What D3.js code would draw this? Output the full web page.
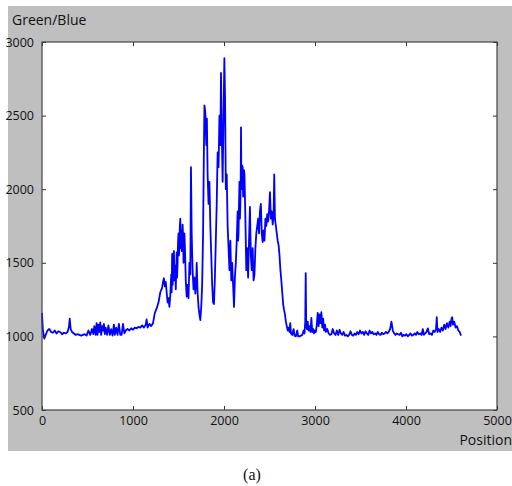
<!DOCTYPE html>
<html>
<head>
<meta charset="utf-8">
<script src="https://cdn.jsdelivr.net/npm/d3@7"></script>
<style>
body { margin: 0; background: #fff; }
</style>
</head>
<body>
<div id="chart"></div>
<script>
// positions along the sequence and the Green/Blue ratio
var positions = [0,10,25,40,60,80,100,120,140,160,180,200,220,240,260,280,295,305,315,330,350,370,390,410,430,450,470,490,510,530,550,565,575,590,600,610,620,630,640,650,660,670,680,690,700,715,730,745,760,775,790,800,815,830,845,860,875,890,905,920,940,960,980,1000,1020,1040,1060,1080,1100,1120,1140,1150,1160,1180,1200,1220,1240,1260,1280,1300,1320,1330,1340,1350,1360,1370,1380,1390,1400,1410,
    1420,1425,1430,1435,1440,1445,1450,1455,1460,1465,1470,1475,1480,1485,1490,1495,1500,1505,1510,1515,1520,1525,1530,1535,1540,1545,1550,1555,1560,1565,1570,
    1580,1590,1600,1610,1620,1630,1637,1645,1655,1665,1675,1685,1695,1700,1710,1720,1730,1740,1750,1760,1770,1778,1785,1795,1805,1812,1820,1830,1840,1850,1860,1870,1880,1890,1900,1910,1920,1930,1940,1950,1960,1967,1975,1985,1995,2004,2012,2020,2030,2040,2050,2060,2070,2080,2090,2100,2110,2120,2130,2140,
    2150,2155,2160,2165,2170,2175,2180,2184,2187,2191,2195,2200,2205,2210,2215,2220,2225,
    2235,2245,2255,2265,2275,2285,2295,2305,2315,2325,2335,2345,2355,2365,2375,2385,2395,2405,2415,2425,2435,2445,2455,2465,2475,2485,2495,2505,2515,2525,2535,2545,2552,2560,2570,2580,2590,2600,2610,2620,2630,2640,2650,2660,2670,2680,2690,2700,2710,2720,2728,2736,2750,2765,2775,2790,2805,2815,2830,2845,2860,2875,2885,2893,2898,2903,2912,2920,2930,2940,2950,2960,2970,2980,2990,3000,3010,3020,3030,3040,3050,3060,3070,3080,3090,3100,3110,3120,3135,3150,3165,3180,3195,3210,3225,3240,3255,3270,3285,3300,3315,3330,3345,3360,3375,3390,3405,3420,3435,3450,3465,3480,3495,3510,3525,3540,3555,3570,3585,3600,3615,3630,3645,3660,3675,3690,3705,3720,3735,3750,3765,3780,3795,3810,3825,3840,3855,3870,3885,3900,3915,3930,3945,3960,3975,3990,4005,4020,4035,4050,4065,4080,4095,4110,4125,4140,4155,4170,4185,4195,4210,4225,4240,4255,4270,4285,4300,4315,4330,4338,4346,4360,4375,4390,4405,4420,4435,4450,4465,4480,4490,4500,4508,4516,4530,4545,4560,4575,4590,4605];

var ratios = [1160,1040,985,1010,1040,1050,1030,1025,1040,1020,1035,1030,1015,1025,1020,1030,1060,1120,1050,1030,1020,1010,1015,1010,1005,1010,1015,1005,1040,1010,1050,1015,1070,1010,1090,1010,1080,1030,1095,1010,1070,1040,1085,1015,1060,1010,1075,1010,1050,1005,1080,1010,1060,1010,1085,1010,1010,1085,1020,1040,1050,1040,1055,1045,1060,1055,1065,1060,1075,1060,1080,1115,1060,1085,1070,1090,1160,1190,1230,1300,1330,1370,1395,1340,1370,1300,1230,1260,1200,1280,
    1420,1300,1560,1350,1400,1550,1580,1380,1430,1480,1320,1450,1570,1400,1500,1640,1700,1550,1620,1750,1800,1600,1720,1580,1650,1760,1690,1500,1540,1700,1620,
    1380,1270,1350,1260,1500,1420,2150,1700,1450,1320,1400,1290,1380,1500,1300,1200,1150,1110,1200,1350,1700,2200,2570,2520,2300,2480,2100,1900,2050,1750,1550,1350,1230,1220,1400,1650,1900,2250,2150,2500,2300,2790,2400,2050,2500,2890,2600,2000,2100,1750,1600,1450,1650,1380,1500,1350,1200,1400,1500,1650,
    1850,1650,1700,1900,2050,1800,1900,2100,2420,2050,2000,2160,2150,1950,2080,2130,2100,
    1800,1450,1600,1400,1650,1880,1550,1450,1600,1380,1420,1600,1700,1750,1800,1700,1850,1900,1700,1640,1720,1650,1800,1750,1830,1780,1850,1980,1800,1850,1760,1820,2100,1800,1750,1700,1650,1620,1550,1450,1380,1300,1220,1180,1150,1100,1070,1040,1060,1030,1090,1020,1010,1050,1005,1000,1040,1000,1000,1005,1010,1040,1020,1100,1430,1080,1050,1100,1040,1070,1030,1125,1030,1050,1020,1040,1030,1080,1160,1070,1150,1090,1165,1060,1120,1040,1080,1030,1050,1020,1010,1015,1050,1020,1010,1040,1010,1045,1020,1010,1030,1005,1010,1000,1010,1035,1010,1005,1020,1010,1030,1015,1040,1020,1030,1010,1035,1020,1010,1040,1020,1030,1015,1020,1010,1030,1015,1010,1025,1015,1020,1030,1020,1030,1050,1100,1040,1020,1010,1020,1015,1010,1025,1000,1010,1005,1015,1000,1010,1020,1005,1010,1020,1010,1030,1015,1020,1010,1050,1010,1020,1030,1055,1015,1020,1010,1040,1030,1050,1130,1030,1050,1030,1060,1040,1080,1050,1090,1060,1100,1070,1120,1130,1080,1100,1060,1070,1040,1030,1005];

var xTicks = [0, 1000, 2000, 3000, 4000, 5000];
var yTicks = [500, 1000, 1500, 2000, 2500, 3000];

var W = 512, H = 486;
var margin = { top: 42, right: 15, bottom: 76, left: 42 },
    width = W - margin.left - margin.right,
    height = H - margin.top - margin.bottom;

var svg = d3.select("#chart")
    .append("svg")
    .attr("width", W)
    .attr("height", H)
    .style("display", "block");

// grey figure background
svg.append("rect")
    .attr("x", 8)
    .attr("y", 6)
    .attr("width", W - 8)
    .attr("height", 445)
    .attr("fill", "#bfbfbf");

var g = svg.append("g")
    .attr("transform", "translate(" + margin.left + "," + margin.top + ")");

var x = d3.scaleLinear().domain([0, 5000]).range([0, width]);
var y = d3.scaleLinear().domain([500, 3000]).range([height, 0]);

g.append("rect")
    .attr("width", width)
    .attr("height", height)
    .attr("fill", "#fff");

var data = positions.map(function (p, i) { return { pos: p, val: ratios[i] }; });

g.append("path")
    .datum(data)
    .attr("fill", "none")
    .attr("stroke", "#0000ff")
    .attr("stroke-width", 1.8)
    .attr("stroke-linejoin", "round")
    .attr("d", d3.line()
        .x(function (d) { return x(d.pos); })
        .y(function (d) { return y(d.val); }));

var font = "'Open Sans', 'DejaVu Sans', sans-serif";

// axes with inward ticks on every side
function styleAxis(sel) {
    sel.select(".domain").remove();
    sel.selectAll("line").attr("stroke", "#333");
    sel.selectAll("text").attr("fill", "#111").style("font-family", font).style("font-size", "12.5px");
}

g.append("g")
    .attr("transform", "translate(0," + height + ")")
    .call(d3.axisBottom(x).tickValues(xTicks).tickFormat(d3.format("d")).tickSizeInner(-4).tickPadding(6))
    .call(styleAxis);

g.append("g")
    .call(d3.axisLeft(y).tickValues(yTicks).tickFormat(d3.format("d")).tickSizeInner(-4).tickPadding(8))
    .call(styleAxis)
    .selectAll("text").attr("dy", "0.32em");

g.append("g")
    .call(d3.axisTop(x).tickValues(xTicks).tickSizeInner(-4).tickFormat(""))
    .call(styleAxis);

g.append("g")
    .attr("transform", "translate(" + width + ",0)")
    .call(d3.axisRight(y).tickValues(yTicks).tickSizeInner(-4).tickFormat(""))
    .call(styleAxis);

g.append("rect")
    .attr("width", width)
    .attr("height", height)
    .attr("fill", "none")
    .attr("stroke", "#444")
    .attr("stroke-width", 1.2);

svg.append("text")
    .attr("x", 12)
    .attr("y", 25)
    .style("font-family", font)
    .style("font-size", "14px")
    .attr("fill", "#111")
    .text("Green/Blue");

svg.append("text")
    .attr("x", 512)
    .attr("y", 445)
    .attr("text-anchor", "end")
    .style("font-family", font)
    .style("font-size", "14px")
    .attr("fill", "#111")
    .text("Position");

svg.append("text")
    .attr("x", 252)
    .attr("y", 480)
    .attr("text-anchor", "middle")
    .style("font-family", "'Liberation Serif', 'Times New Roman', serif")
    .style("font-size", "16px")
    .attr("fill", "#111")
    .text("(a)");
</script>
</body>
</html>
